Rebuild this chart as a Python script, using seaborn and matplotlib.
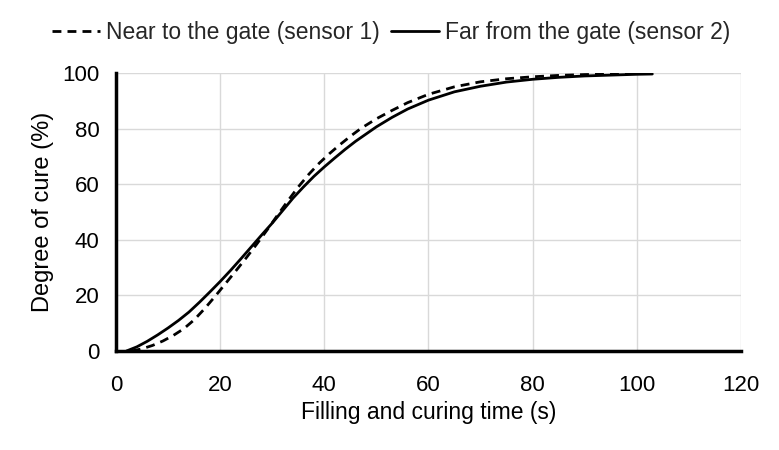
import matplotlib
matplotlib.use("Agg")
import matplotlib.pyplot as plt
import seaborn as sns
import pandas as pd

# Data
x_sensor1 = [3, 5, 7, 9, 11, 13, 15, 17, 19, 21, 23, 25, 27, 29, 31, 33, 35, 37, 39, 41, 43, 45, 47,
             50, 53, 56, 60, 65, 70, 75, 80, 85, 90, 95, 100, 103]
y_sensor1 = [0, 0.8, 2, 3.6, 5.6, 8, 11.2, 15.2, 19.6, 24.2, 28.8, 33.5, 38.4, 43.5, 48.8, 54, 59, 63.5,
             67.5, 71, 74.2, 77.2, 80, 83.5, 86.5, 89.3, 92.3, 95, 96.8, 97.9, 98.6, 99.1, 99.4, 99.6, 99.8, 99.8]
x_sensor2 = [2, 4, 6, 8, 10, 12, 14, 16, 18, 20, 22, 24, 26, 28, 30, 32, 34, 36, 38, 40, 42, 44, 46, 48,
             50, 53, 56, 60, 65, 70, 75, 80, 85, 90, 95, 100, 103]
y_sensor2 = [0, 1.5, 3.5, 5.8, 8.3, 11, 14, 17.5, 21.2, 25, 29, 33.2, 37.5, 41.8, 46, 50.5, 55, 59, 62.8,
             66.2, 69.4, 72.5, 75.4, 78, 80.6, 84, 87, 90.2, 93.2, 95.2, 96.7, 97.7, 98.4, 98.9, 99.2, 99.5, 99.6]
labels = ["Near to the gate (sensor 1)", "Far from the gate (sensor 2)"]
x_ticks = [0, 20, 40, 60, 80, 100, 120]
y_ticks = [0, 20, 40, 60, 80, 100]

df = pd.concat([
    pd.DataFrame({"t": x_sensor1, "cure": y_sensor1, "series": labels[0]}),
    pd.DataFrame({"t": x_sensor2, "cure": y_sensor2, "series": labels[1]}),
])

sns.set_theme(style="white")
plt.rcParams["font.family"] = ["Liberation Sans", "DejaVu Sans"]

fig = plt.figure(figsize=(7.79, 4.5), dpi=100)
ax = fig.add_axes([0.149, 0.22, 0.802, 0.618])

sns.lineplot(data=df, x="t", y="cure", hue="series", style="series",
             palette={labels[0]: "black", labels[1]: "black"},
             dashes={labels[0]: (3.2, 2.2), labels[1]: ""},
             linewidth=2, ax=ax, legend=True, sort=False)

ax.set_xlim(0, 120)
ax.set_ylim(0, 100)
ax.set_xticks(x_ticks)
ax.set_yticks(y_ticks)
ax.grid(True, color="#d9d9d9", linewidth=1)
ax.set_axisbelow(True)
for s in ["top", "right"]:
    ax.spines[s].set_visible(False)
for s in ["left", "bottom"]:
    ax.spines[s].set_color("black")
    ax.spines[s].set_linewidth(2.5)
ax.tick_params(axis="both", length=0, labelsize=16, colors="black")
ax.tick_params(axis="x", pad=17)
ax.tick_params(axis="y", pad=12)
ax.set_xlabel("Filling and curing time (s)", fontsize=16.5, color="black", labelpad=4)
ax.set_ylabel("Degree of cure (%)", fontsize=17, color="black", labelpad=6)

handles, lbls = ax.get_legend_handles_labels()
ax.legend(handles, lbls, loc="lower center", bbox_to_anchor=(0.44, 1.07), ncol=2,
          frameon=False, fontsize=16.5, handlelength=2.1, handletextpad=0.25,
          columnspacing=0.5, borderaxespad=0)

fig.savefig("out.png", dpi=100)
